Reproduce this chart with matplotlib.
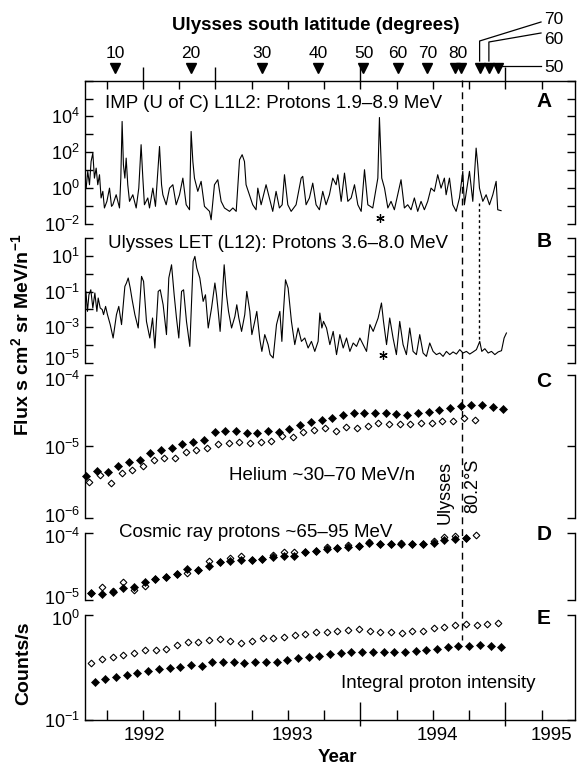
import matplotlib
matplotlib.use("Agg")
import matplotlib.pyplot as plt
import matplotlib.transforms as mtransforms
from matplotlib.lines import Line2D
from matplotlib.ticker import NullLocator

plt.rcParams['font.family'] = ['Liberation Sans', 'DejaVu Sans']
plt.rcParams['mathtext.fontset'] = 'custom'
plt.rcParams['mathtext.rm'] = 'Liberation Sans'
plt.rcParams['mathtext.it'] = 'Liberation Sans:italic'
plt.rcParams['mathtext.bf'] = 'Liberation Sans:bold'
plt.rcParams['axes.linewidth'] = 1.0

# ---------------- data ----------------
x_limits = (1992.10, 1995.48)
year_ticks = [1993, 1994, 1995]
quarter_ticks = [1992.25, 1992.5, 1992.75, 1993.25, 1993.5, 1993.75,
                 1994.25, 1994.5, 1994.75, 1995.25]
top_up_ticks = [1992.5, 1993.0, 1994.0, 1995.0]
year_labels = ['1992', '1993', '1994', '1995']
year_label_pos = [1992.51, 1993.53, 1994.53, 1995.32]

# Ulysses latitude markers (decimal year)
lat_marks = [1992.310, 1992.830, 1993.321, 1993.707, 1994.021, 1994.257,
             1994.461, 1994.652, 1994.695, 1994.822, 1994.886, 1994.950]
lat_label_pos = [1992.310, 1992.830, 1993.321, 1993.707, 1994.021, 1994.257,
                 1994.461, 1994.670]
lat_labels = ['10', '20', '30', '40', '50', '60', '70', '80']
lat_return_labels = ['70', '60', '50']
max_lat_time = 1994.70
return70_time = 1994.817

# Panel A: IMP (U of C) L1L2 protons, (decimal year, log10 flux)
imp_pts = [(1992.108,-0.01),(1992.119,0.93),(1992.131,0.18),(1992.142,1.48),(1992.154,1.95),(1992.165,0.55),(1992.177,1.11),(1992.188,0.18),(1992.200,0.74),(1992.211,-0.56),(1992.223,-0.19),(1992.234,-1.12),(1992.251,-0.75),(1992.269,-0.01),(1992.283,-1.03),(1992.292,-0.94),(1992.315,-0.38),(1992.338,-1.12),(1992.347,0.55),(1992.356,3.72),(1992.365,1.30),(1992.375,0.55),(1992.384,1.67),(1992.395,0.18),(1992.407,-0.75),(1992.430,-0.38),(1992.453,-1.12),(1992.471,-0.01),(1992.487,2.42),(1992.499,0.55),(1992.510,-0.94),(1992.533,-0.56),(1992.545,-1.12),(1992.568,-0.01),(1992.586,-1.03),(1992.614,2.32),(1992.628,0.18),(1992.637,-0.38),(1992.660,-0.94),(1992.683,-0.01),(1992.706,0.18),(1992.729,-0.94),(1992.752,-0.38),(1992.775,0.55),(1992.798,-0.94),(1992.821,-1.22),(1992.832,3.16),(1992.844,1.48),(1992.855,0.55),(1992.878,-0.19),(1992.901,0.37),(1992.924,-1.03),(1992.959,-1.31),(1992.970,-1.78),(1992.993,0.18),(1993.016,0.46),(1993.039,-0.75),(1993.062,-1.12),(1993.097,-1.31),(1993.120,-1.12),(1993.143,-1.31),(1993.166,1.58),(1993.184,1.86),(1993.200,1.48),(1993.211,0.18),(1993.234,-0.38),(1993.257,-0.94),(1993.280,-1.22),(1993.292,-0.01),(1993.315,-0.94),(1993.349,0.18),(1993.372,-0.56),(1993.395,-1.31),(1993.418,-0.19),(1993.441,-1.12),(1993.460,-0.94),(1993.476,0.74),(1993.499,-0.94),(1993.522,-1.31),(1993.556,-0.94),(1993.591,0.55),(1993.602,0.65),(1993.625,-0.94),(1993.648,-0.56),(1993.671,0.27),(1993.694,-0.94),(1993.717,-1.22),(1993.740,-0.19),(1993.763,-0.94),(1993.786,-0.38),(1993.809,0.55),(1993.832,0.18),(1993.844,0.74),(1993.867,-0.75),(1993.890,0.83),(1993.913,-0.75),(1993.936,-0.56),(1993.959,0.18),(1993.982,-0.94),(1994.005,-1.31),(1994.028,1.02),(1994.051,-0.94),(1994.085,-1.12),(1994.108,-0.01),(1994.120,0.55),(1994.131,3.94),(1994.147,0.55),(1994.166,-0.01),(1994.189,-1.12),(1994.211,-0.75),(1994.234,-1.22),(1994.257,-0.38),(1994.280,0.46),(1994.303,-1.12),(1994.326,-0.94),(1994.349,-1.22),(1994.372,-0.56),(1994.395,-1.31),(1994.418,-0.75),(1994.441,-1.22),(1994.464,-0.75),(1994.487,-0.01),(1994.510,-0.19),(1994.533,0.74),(1994.556,-0.01),(1994.579,0.55),(1994.591,-0.38),(1994.614,0.55),(1994.637,-0.94),(1994.660,-1.31),(1994.683,-0.56),(1994.706,0.93),(1994.717,-0.94),(1994.752,0.93),(1994.775,-0.75),(1994.798,2.23),(1994.809,1.30),(1994.821,-0.01),(1994.844,-0.75),(1994.867,-0.38),(1994.890,-0.94),(1994.913,-0.38),(1994.936,0.37),(1994.947,-1.22),(1994.970,-1.27)]
imp_star = (1994.133, -1.68)

# Panel B: Ulysses LET (L12) protons, (decimal year, log10 flux)
let_pts = [(1992.099,-2.48),(1992.106,-0.99),(1992.117,-2.11),(1992.127,-1.18),(1992.140,-0.90),(1992.154,-1.92),(1992.168,-1.08),(1992.182,-2.11),(1992.191,-1.36),(1992.205,-1.92),(1992.219,-2.01),(1992.228,-2.29),(1992.242,-1.83),(1992.255,-2.29),(1992.274,-2.85),(1992.294,-3.60),(1992.317,-2.29),(1992.333,-1.83),(1992.352,-2.85),(1992.375,-0.71),(1992.386,-0.52),(1992.398,-0.24),(1992.412,-0.80),(1992.425,-1.45),(1992.444,-2.29),(1992.467,-3.04),(1992.490,-0.15),(1992.504,-0.43),(1992.524,-2.67),(1992.547,-3.60),(1992.566,-2.48),(1992.582,-4.16),(1992.605,-0.99),(1992.619,-0.90),(1992.639,-1.74),(1992.662,-3.41),(1992.678,-0.24),(1992.697,0.50),(1992.715,-1.18),(1992.731,-2.48),(1992.747,-3.60),(1992.766,-0.99),(1992.780,-0.90),(1992.800,-2.67),(1992.823,-4.07),(1992.846,0.69),(1992.858,0.97),(1992.871,0.32),(1992.892,-0.24),(1992.915,-1.55),(1992.931,-1.18),(1992.950,-3.04),(1992.973,-1.92),(1992.996,-0.52),(1993.007,-1.18),(1993.019,-2.11),(1993.032,-3.23),(1993.044,-1.74),(1993.060,0.50),(1993.076,-1.18),(1993.090,-2.11),(1993.111,-3.04),(1993.134,-2.39),(1993.147,-1.74),(1993.161,-2.48),(1993.180,-3.23),(1993.202,-2.29),(1993.216,-0.99),(1993.237,-2.11),(1993.251,-3.41),(1993.271,-2.67),(1993.285,-2.11),(1993.306,-3.69),(1993.320,-4.35),(1993.340,-3.41),(1993.363,-3.97),(1993.377,-4.53),(1993.398,-4.72),(1993.421,-2.85),(1993.444,-2.11),(1993.458,-3.79),(1993.469,-2.11),(1993.483,-0.34),(1993.501,-0.80),(1993.524,-2.67),(1993.547,-3.97),(1993.570,-3.04),(1993.593,-3.79),(1993.616,-3.60),(1993.639,-4.16),(1993.662,-3.79),(1993.685,-4.35),(1993.708,-3.79),(1993.720,-2.20),(1993.734,-3.04),(1993.745,-2.67),(1993.766,-3.04),(1993.789,-3.97),(1993.812,-3.23),(1993.835,-4.53),(1993.858,-3.41),(1993.881,-4.16),(1993.904,-3.60),(1993.927,-4.35),(1993.950,-3.88),(1993.973,-4.07),(1993.996,-3.60),(1994.019,-3.97),(1994.042,-4.35),(1994.065,-2.85),(1994.088,-3.23),(1994.122,-2.48),(1994.145,-1.64),(1994.159,-2.67),(1994.180,-3.97),(1994.202,-2.48),(1994.225,-3.60),(1994.248,-4.53),(1994.271,-2.67),(1994.294,-3.97),(1994.317,-4.53),(1994.340,-3.04),(1994.363,-4.35),(1994.386,-4.53),(1994.409,-3.41),(1994.432,-4.44),(1994.455,-4.63),(1994.478,-3.88),(1994.501,-4.35),(1994.524,-4.53),(1994.547,-4.44),(1994.570,-4.63),(1994.593,-4.35),(1994.616,-4.53),(1994.639,-4.38),(1994.662,-4.50),(1994.685,-4.25),(1994.708,-4.44),(1994.731,-4.35),(1994.754,-4.50),(1994.777,-4.38),(1994.800,-4.25),(1994.823,-3.79),(1994.837,-4.35),(1994.858,-4.20),(1994.881,-4.44),(1994.904,-4.35),(1994.927,-4.53),(1994.950,-4.38),(1994.973,-4.31),(1994.991,-3.60),(1995.007,-3.32)]
let_star = (1994.156, -4.53)

# Panel C: Helium ~30-70 MeV/n (solar-rotation averages)
t_C_fill = [1992.108, 1992.182, 1992.256, 1992.329, 1992.403, 1992.477, 1992.551, 1992.625, 1992.698, 1992.772,
            1992.846, 1992.920, 1992.994, 1993.067, 1993.141, 1993.215, 1993.289, 1993.363, 1993.436, 1993.510,
            1993.584, 1993.658, 1993.732, 1993.805, 1993.879, 1993.953, 1994.027, 1994.101, 1994.174, 1994.248,
            1994.322, 1994.396, 1994.470, 1994.543, 1994.617, 1994.691, 1994.765, 1994.839, 1994.912, 1994.986]
he_fill = [3.90e-6, 4.48e-6, 4.34e-6, 5.37e-6, 5.98e-6, 6.52e-6, 8.07e-6, 8.97e-6, 9.68e-6, 1.08e-5,
           1.16e-5, 1.24e-5, 1.57e-5, 1.67e-5, 1.66e-5, 1.53e-5, 1.53e-5, 1.64e-5, 1.58e-5, 1.78e-5,
           1.99e-5, 2.19e-5, 2.33e-5, 2.54e-5, 2.74e-5, 2.98e-5, 2.92e-5, 2.98e-5, 2.92e-5, 2.88e-5,
           2.77e-5, 2.98e-5, 3.08e-5, 3.25e-5, 3.50e-5, 3.69e-5, 3.81e-5, 3.81e-5, 3.54e-5, 3.32e-5]
t_C_open = [1992.131, 1992.205, 1992.279, 1992.352, 1992.426, 1992.500, 1992.574, 1992.648, 1992.721, 1992.795,
            1992.869, 1992.943, 1993.017, 1993.090, 1993.164, 1993.238, 1993.312, 1993.386, 1993.459, 1993.533,
            1993.607, 1993.681, 1993.755, 1993.828, 1993.902, 1993.976, 1994.050, 1994.124, 1994.197, 1994.271,
            1994.345, 1994.419, 1994.493, 1994.566, 1994.640, 1994.714, 1994.788]
he_open = [3.15e-6, 4.03e-6, 3.08e-6, 4.25e-6, 4.62e-6, 5.37e-6, 6.38e-6, 6.88e-6, 6.80e-6, 8.34e-6,
           8.80e-6, 9.48e-6, 1.09e-5, 1.11e-5, 1.14e-5, 1.11e-5, 1.14e-5, 1.20e-5, 1.38e-5, 1.34e-5,
           1.62e-5, 1.71e-5, 1.80e-5, 1.67e-5, 1.90e-5, 1.80e-5, 1.94e-5, 2.12e-5, 2.05e-5, 2.05e-5,
           2.07e-5, 2.16e-5, 2.12e-5, 2.28e-5, 2.31e-5, 2.54e-5, 2.36e-5]

# Panel D: cosmic ray protons ~65-95 MeV
t_D = [1992.143, 1992.217, 1992.291, 1992.364, 1992.438, 1992.512, 1992.586, 1992.660, 1992.733, 1992.807,
       1992.881, 1992.955, 1993.029, 1993.102, 1993.176, 1993.250, 1993.324, 1993.398, 1993.471, 1993.545,
       1993.619, 1993.693, 1993.767, 1993.840, 1993.914, 1993.988, 1994.062, 1994.136, 1994.209, 1994.283,
       1994.357, 1994.431, 1994.505, 1994.578, 1994.652, 1994.726, 1994.800]
cr_fill = [1.29e-5, 1.23e-5, 1.32e-5, 1.50e-5, 1.58e-5, 1.88e-5, 2.04e-5, 2.19e-5, 2.43e-5, 2.88e-5,
           2.82e-5, 3.24e-5, 3.63e-5, 3.76e-5, 3.98e-5, 3.98e-5, 4.07e-5, 4.37e-5, 4.57e-5, 4.47e-5,
           5.19e-5, 5.37e-5, 5.75e-5, 5.89e-5, 6.17e-5, 6.46e-5, 7.08e-5, 6.92e-5, 6.92e-5, 6.92e-5,
           6.76e-5, 6.76e-5, 7.08e-5, 7.76e-5, 8.22e-5, 8.41e-5]
cr_open = [1.26e-5, 1.55e-5, 1.38e-5, 1.88e-5, 1.41e-5, 1.62e-5, 2.04e-5, 2.19e-5, 2.43e-5, 2.57e-5,
           2.82e-5, 3.76e-5, 3.63e-5, 4.22e-5, 4.57e-5, 3.98e-5, 4.07e-5, 4.73e-5, 5.13e-5, 5.25e-5,
           5.19e-5, 5.37e-5, 6.17e-5, 5.89e-5, 6.61e-5, 6.46e-5, 7.24e-5, 6.92e-5, 6.92e-5, 7.08e-5,
           6.76e-5, 6.76e-5, 7.50e-5, 8.71e-5, 8.91e-5, 8.41e-5, 9.23e-5]

# Panel E: integral proton intensity (counts/s)
t_E_open = [1992.144, 1992.218, 1992.292, 1992.365, 1992.439, 1992.513, 1992.587, 1992.661, 1992.734, 1992.808,
            1992.882, 1992.956, 1993.030, 1993.103, 1993.177, 1993.251, 1993.325, 1993.399, 1993.472, 1993.546,
            1993.620, 1993.694, 1993.768, 1993.841, 1993.915, 1993.989, 1994.063, 1994.137, 1994.210, 1994.284,
            1994.358, 1994.432, 1994.506, 1994.579, 1994.653, 1994.727, 1994.801, 1994.875, 1994.948]
ip_open = [0.347, 0.381, 0.395, 0.416, 0.431, 0.464, 0.464, 0.471, 0.518, 0.553,
           0.557, 0.578, 0.587, 0.570, 0.545, 0.570, 0.600, 0.600, 0.622, 0.640,
           0.654, 0.684, 0.694, 0.704, 0.720, 0.736, 0.709, 0.684, 0.684, 0.679,
           0.704, 0.709, 0.747, 0.774, 0.797, 0.821, 0.809, 0.821, 0.833]
t_E_fill = [1992.167, 1992.241, 1992.315, 1992.388, 1992.462, 1992.536, 1992.610, 1992.684, 1992.757, 1992.831,
            1992.905, 1992.979, 1993.053, 1993.126, 1993.200, 1993.274, 1993.348, 1993.422, 1993.495, 1993.569,
            1993.643, 1993.717, 1993.791, 1993.864, 1993.938, 1994.012, 1994.086, 1994.160, 1994.233, 1994.307,
            1994.381, 1994.455, 1994.529, 1994.602, 1994.676, 1994.750, 1994.824, 1994.898, 1994.971]
ip_fill = [0.232, 0.246, 0.259, 0.268, 0.278, 0.295, 0.304, 0.315, 0.322, 0.334,
           0.329, 0.360, 0.360, 0.357, 0.347, 0.354, 0.360, 0.360, 0.373, 0.387,
           0.401, 0.410, 0.422, 0.438, 0.448, 0.448, 0.448, 0.448, 0.441, 0.448,
           0.454, 0.464, 0.478, 0.492, 0.507, 0.511, 0.514, 0.511, 0.499]

# ---------------- figure ----------------
W, H = 578, 765
FS = 13.5
FS_TICK = 13
fig = plt.figure(figsize=(W / 100, H / 100), dpi=100)
LEFT, RIGHT = 85, 575


def add_panel(top, bottom):
    return fig.add_axes([LEFT / W, 1 - bottom / H, (RIGHT - LEFT) / W, (bottom - top) / H])


def style(ax, lo, hi, labeled, shifts):
    ax.set_yscale('log')
    ax.set_xlim(*x_limits)
    ax.set_ylim(10.0 ** lo, 10.0 ** hi)
    ax.set_yticks([10.0 ** e for e in range(lo, hi + 1)])
    ax.yaxis.set_minor_locator(NullLocator())
    ax.tick_params(axis='y', which='major', direction='in', length=6, width=1.0,
                   left=True, right=True, labelleft=False, labelright=False)
    ax.spines['top'].set_visible(False)
    ax.spines['bottom'].set_visible(False)
    ax.tick_params(axis='x', which='both', top=False, bottom=False,
                   labelbottom=False, labeltop=False)
    ax.patch.set_visible(False)
    tr = mtransforms.blended_transform_factory(ax.transAxes, ax.transData)
    for e in labeled:
        t = mtransforms.offset_copy(tr, fig=fig, x=-5, y=shifts.get(e, 0), units='dots')
        ax.text(0, 10.0 ** e, r'$10^{%d}$' % e, transform=t, ha='right',
                va='center_baseline', fontsize=FS_TICK)


axA = add_panel(80.7, 223.7)
axB = add_panel(238, 363)
axC = add_panel(375, 518)
axD = add_panel(533, 600)
axE = add_panel(615, 720)

style(axA, -2, 6, [-2, 0, 2, 4], {})
style(axB, -5, 2, [-5, -3, -1, 1], {-5: 5})
style(axC, -6, -4, [-6, -5, -4], {-4: -4, -6: 3})
style(axD, -5, -4, [-5, -4], {-4: -3, -5: 3})
style(axE, -1, 0, [-1, 0], {0: -3})

# series
axA.plot([p[0] for p in imp_pts], [10.0 ** p[1] for p in imp_pts], color='black', lw=0.8)
axA.plot([imp_star[0]], [10.0 ** imp_star[1]], marker=(6, 2, 0), ms=6, mew=0.9, color='black', ls='none')
axB.plot([p[0] for p in let_pts], [10.0 ** p[1] for p in let_pts], color='black', lw=0.8)
axB.plot([let_star[0]], [10.0 ** let_star[1]], marker=(6, 2, 0), ms=6, mew=0.9, color='black', ls='none')

open_kw = dict(ls='none', marker='D', ms=3.4, mfc='white', mec='black', mew=0.8, clip_on=False)
fill_kw = dict(ls='none', marker='D', ms=3.6, mfc='black', mec='black', mew=0.5, clip_on=False)
axC.plot(t_C_open, he_open, **open_kw)
axC.plot(t_C_fill, he_fill, **fill_kw)
axD.plot(t_D, cr_open, **open_kw)
axD.plot(t_D[:len(cr_fill)], cr_fill, **fill_kw)
axE.plot(t_E_open, ip_open, **open_kw)
axE.plot(t_E_fill, ip_fill, **fill_kw)

# top axis of A
axA.spines['top'].set_visible(True)
axA.set_xticks(year_ticks)
axA.set_xticks(quarter_ticks, minor=True)
axA.tick_params(axis='x', which='both', top=True, bottom=False, direction='in',
                length=5.5, width=1.0, labeltop=False, labelbottom=False)
trA = mtransforms.blended_transform_factory(axA.transData, axA.transAxes)
axA.vlines(top_up_ticks, 1.0, 1.0 + 14 / 143, transform=trA, color='black', lw=1.0, clip_on=False)

# bottom axis of E
axE.spines['bottom'].set_visible(True)
axE.set_xticks(year_ticks)
axE.set_xticks(quarter_ticks, minor=True)
axE.tick_params(axis='x', which='major', bottom=True, direction='in', length=13, width=1.0,
                labelbottom=False)
axE.tick_params(axis='x', which='minor', bottom=True, direction='in', length=7.2, width=1.0)
trE = mtransforms.blended_transform_factory(axE.transData, axE.transAxes)
axE.vlines(year_ticks, 0.0, -6 / 105, transform=trE, color='black', lw=1.0, clip_on=False)
for pos, lab in zip(year_label_pos, year_labels):
    axE.text(pos, -0.143, lab, transform=trE, ha='center', va='center', fontsize=FS)

# vertical markers
trF = mtransforms.blended_transform_factory(axA.transData, fig.transFigure)
fig.add_artist(Line2D([max_lat_time, max_lat_time], [1 - 80 / H, 1 - 640 / H], transform=trF,
                      color='black', lw=1.0, ls=(0, (5, 3.5))))
fig.add_artist(Line2D([return70_time, return70_time], [1 - 203 / H, 1 - 342 / H], transform=trF,
                      color='black', lw=1.0, ls=(0, (2, 2))))

# latitude triangles and labels
axA.plot(lat_marks, [1 - 68 / H] * len(lat_marks), transform=trF, ls='none', marker='v',
         ms=7, color='black', clip_on=False)
for pos, lab in zip(lat_label_pos, lat_labels):
    fig.text(pos, 1 - 53 / H, lab, transform=trF, ha='center', va='center', fontsize=12.5)


def xpix(t):
    return axA.transData.transform((t, 1.0))[0]


x70, x60, x50 = xpix(lat_marks[9]), xpix(lat_marks[10]), xpix(lat_marks[11])
leaders = [([541, x70, x70], [22, 41, 61]),
           ([541, x60, x60], [33, 42, 61]),
           ([x50 + 3, 541], [66, 66])]
for xs, ys in leaders:
    fig.add_artist(Line2D([x / W for x in xs], [1 - y / H for y in ys], transform=fig.transFigure,
                          color='black', lw=0.9))
for lab, y in zip(lat_return_labels, [20, 40, 68]):
    fig.text(554 / W, 1 - y / H, lab, ha='center', va='center', fontsize=12.5)

fig.text(315.6 / W, 1 - 26 / H, 'Ulysses south latitude (degrees)', ha='center', va='center',
         fontsize=FS, fontweight='bold')

# panel annotations
axA.text(1992.238, 0.844, 'IMP (U of C) L1L2: Protons 1.9–8.9 MeV', transform=trA,
         ha='left', va='center', fontsize=FS)
trB = mtransforms.blended_transform_factory(axB.transData, axB.transAxes)
axB.text(1992.259, 0.96, 'Ulysses LET (L12): Protons 3.6–8.0 MeV', transform=trB,
         ha='left', va='center', fontsize=FS)
trC = mtransforms.blended_transform_factory(axC.transData, axC.transAxes)
axC.text(1993.093, 0.30, 'Helium ~30–70 MeV/n', transform=trC, ha='left', va='center', fontsize=FS)
trD = mtransforms.blended_transform_factory(axD.transData, axD.transAxes)
axD.text(1992.334, 1.0045, 'Cosmic ray protons ~65–95 MeV', transform=trD, ha='left', va='center',
         fontsize=FS)
axE.text(1993.866, 0.352, 'Integral proton intensity', transform=trE, ha='left', va='center',
         fontsize=FS)

fig.text(1994.583, 1 - 492 / H, 'Ulysses', transform=trF, rotation=90, ha='center', va='center',
         fontsize=13)
fig.text(1994.776, 1 - 486 / H, '80.2°S', transform=trF, rotation=90, ha='center', va='center',
         fontsize=13)

for letter, y in zip('ABCDE', [101.7, 241.7, 381.7, 535, 618.3]):
    fig.text(544 / W, 1 - y / H, letter, ha='center', va='center', fontsize=15, fontweight='bold')

fig.text(21 / W, 1 - 335 / H, r'Flux s cm$^{\mathbf{2}}$ sr MeV/n$^{\mathbf{-1}}$', rotation=90,
         ha='center', va='center', fontsize=14, fontweight='bold')
fig.text(24 / W, 1 - 663 / H, 'Counts/s', rotation=90, ha='center', va='center', fontsize=14,
         fontweight='bold')
fig.text(337.6 / W, 1 - 757 / H, 'Year', ha='center', va='center', fontsize=FS, fontweight='bold')

fig.savefig('out.png', dpi=100)
